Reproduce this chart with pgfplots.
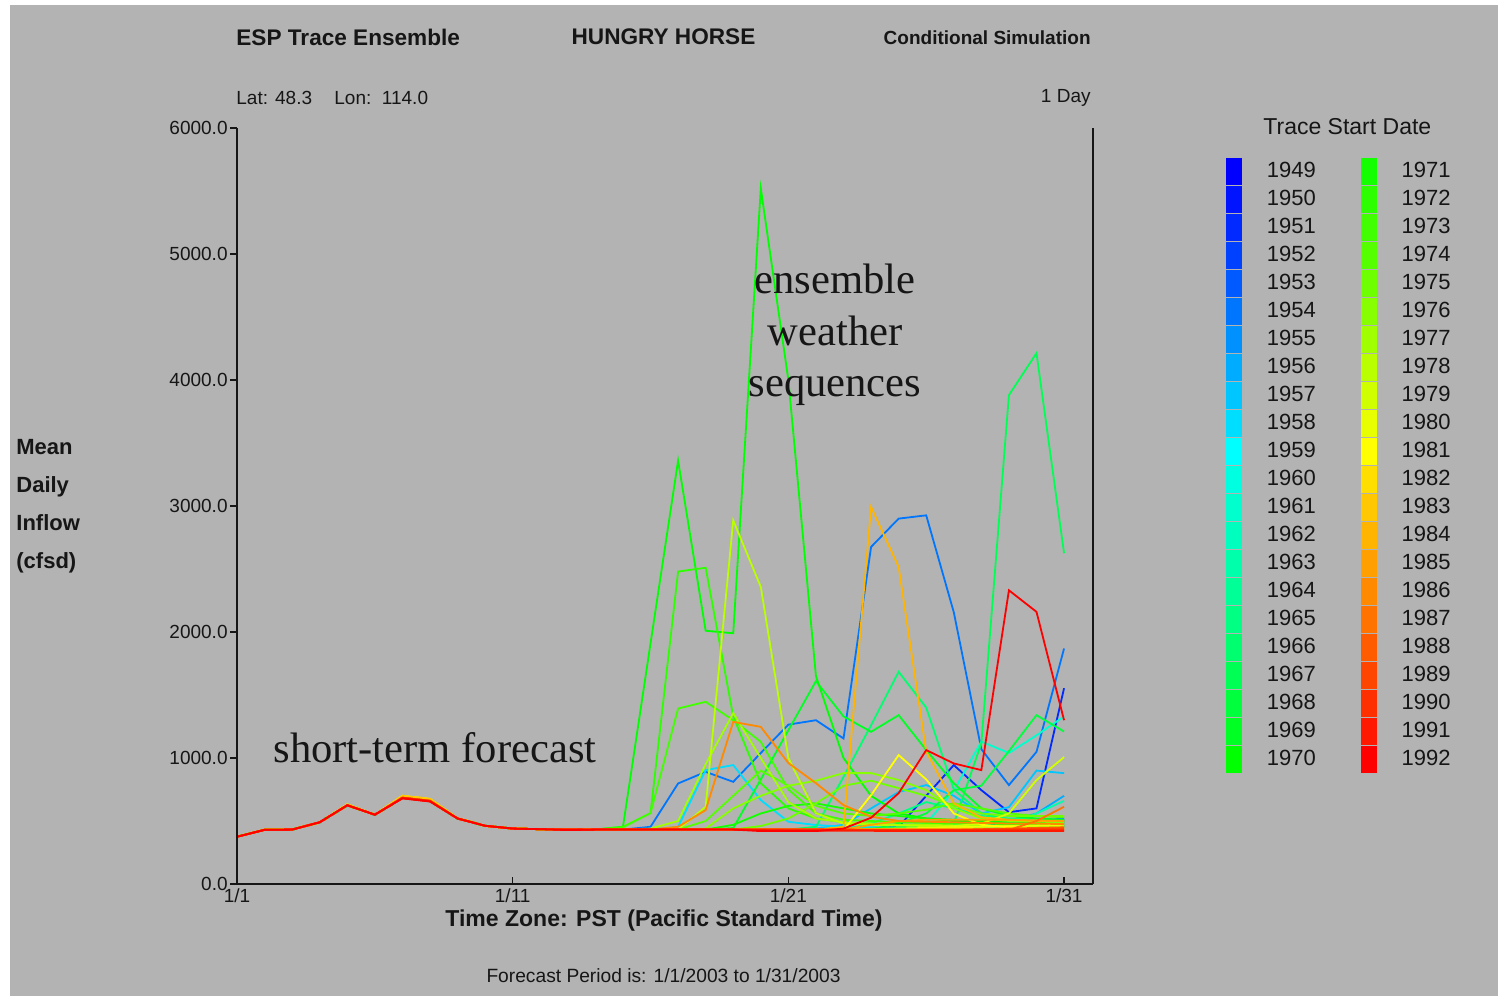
\documentclass[border=0pt]{standalone}
\usepackage{pgfplots}
\pgfplotsset{compat=1.18}
\usepackage{pgfplotstable}
\usepackage{fontspec}
\setmainfont{Liberation Sans}
\newfontfamily\serif{Liberation Serif}

\definecolor{bg}{RGB}{179,179,179}
\definecolor{ink}{RGB}{22,22,22}
% trace colours, blue -> cyan -> green -> yellow -> red
\definecolor{c1949}{RGB}{0,0,255}
\definecolor{c1950}{RGB}{0,20,255}
\definecolor{c1951}{RGB}{0,42,255}
\definecolor{c1952}{RGB}{0,64,255}
\definecolor{c1953}{RGB}{0,90,255}
\definecolor{c1954}{RGB}{0,118,255}
\definecolor{c1955}{RGB}{0,145,255}
\definecolor{c1956}{RGB}{0,172,255}
\definecolor{c1957}{RGB}{0,198,255}
\definecolor{c1958}{RGB}{0,222,255}
\definecolor{c1959}{RGB}{0,255,255}
\definecolor{c1960}{RGB}{0,255,225}
\definecolor{c1961}{RGB}{0,255,205}
\definecolor{c1962}{RGB}{0,255,190}
\definecolor{c1963}{RGB}{0,255,170}
\definecolor{c1964}{RGB}{0,255,150}
\definecolor{c1965}{RGB}{0,255,130}
\definecolor{c1966}{RGB}{0,255,110}
\definecolor{c1967}{RGB}{0,255,85}
\definecolor{c1968}{RGB}{0,255,60}
\definecolor{c1969}{RGB}{0,255,35}
\definecolor{c1970}{RGB}{0,255,0}
\definecolor{c1971}{RGB}{20,255,0}
\definecolor{c1972}{RGB}{45,255,0}
\definecolor{c1973}{RGB}{65,255,0}
\definecolor{c1974}{RGB}{85,255,0}
\definecolor{c1975}{RGB}{110,255,0}
\definecolor{c1976}{RGB}{135,255,0}
\definecolor{c1977}{RGB}{160,255,0}
\definecolor{c1978}{RGB}{185,255,0}
\definecolor{c1979}{RGB}{208,255,0}
\definecolor{c1980}{RGB}{232,255,0}
\definecolor{c1981}{RGB}{255,255,0}
\definecolor{c1982}{RGB}{255,222,0}
\definecolor{c1983}{RGB}{255,200,0}
\definecolor{c1984}{RGB}{255,180,0}
\definecolor{c1985}{RGB}{255,160,0}
\definecolor{c1986}{RGB}{255,138,0}
\definecolor{c1987}{RGB}{255,115,0}
\definecolor{c1988}{RGB}{255,92,0}
\definecolor{c1989}{RGB}{255,70,0}
\definecolor{c1990}{RGB}{255,48,0}
\definecolor{c1991}{RGB}{255,25,0}
\definecolor{c1992}{RGB}{255,0,0}

% one row per trace year, daily mean inflow (cfsd) for 1/1 ... 1/31
\pgfplotstableread{
yr d0 d1 d2 d3 d4 d5 d6 d7 d8 d9 d10 d11 d12 d13 d14 d15 d16 d17 d18 d19 d20 d21 d22 d23 d24 d25 d26 d27 d28 d29 d30
y49 375 430 432 490 625 550 685 660 520 462 440 435 435 432 430 430 430 430 428 428 428 428 428 430 432 436 440 445 450 455 462
y50 375 430 432 490 625 550 685 660 520 462 440 435 435 432 432 432 432 432 432 432 432 435 440 445 450 455 460 470 480 490 500
y51 375 430 432 490 625 550 685 660 520 462 440 435 435 432 432 432 432 432 432 432 432 432 432 432 454 700 944 745 570 600 1554
y52 375 430 432 490 625 550 685 660 520 462 440 435 435 432 432 432 432 432 432 432 432 432 432 434 440 450 460 470 480 495 510
y53 375 430 432 490 625 550 685 660 520 462 440 435 435 432 432 432 432 432 432 432 432 432 432 432 432 432 440 450 460 470 480
y54 375 430 432 490 625 550 685 660 520 462 440 435 435 432 432 454 798 890 811 1040 1265 1300 1155 2675 2900 2926 2157 1070 785 1049 1869
y55 375 430 432 490 625 550 685 660 520 462 440 435 435 432 432 432 432 432 432 432 432 432 435 440 450 460 470 480 490 500 520
y56 375 430 432 490 625 550 685 660 520 462 440 435 435 432 432 432 432 432 432 432 432 432 432 434 440 446 452 470 500 560 700
y57 375 430 432 490 625 550 685 660 520 462 440 435 435 432 432 432 432 432 432 432 432 440 470 600 730 785 700 560 610 900 880
y58 375 430 432 490 625 550 685 660 520 462 440 435 435 432 432 432 454 904 944 666 494 468 455 450 445 445 445 445 445 445 445
y59 375 430 432 490 625 550 685 660 520 462 440 435 435 432 432 432 432 432 432 432 432 432 432 432 432 436 440 445 450 455 460
y60 375 430 432 490 625 550 685 660 520 462 440 435 435 432 432 432 432 432 432 432 432 432 432 432 436 440 446 452 458 464 470
y61 375 430 432 490 625 550 685 660 520 462 440 435 435 432 432 432 432 432 432 432 432 432 432 432 440 480 741 1130 1040 1180 1330
y62 375 430 432 490 625 550 685 660 520 462 440 435 435 432 432 432 432 432 432 432 432 432 432 436 440 446 452 458 464 472 480
y63 375 430 432 490 625 550 685 660 520 462 440 435 435 432 432 432 432 432 432 432 432 432 432 432 436 440 450 460 470 560 660
y64 375 430 432 490 625 550 685 660 520 462 440 435 435 432 432 432 432 432 432 432 432 432 436 440 450 460 470 480 490 495 500
y65 375 430 432 490 625 550 685 660 520 462 440 435 435 432 432 432 432 432 432 432 432 432 432 480 560 650 600 540 520 510 500
y66 375 430 432 490 625 550 685 660 520 462 440 435 435 432 432 432 432 432 432 432 432 454 850 1260 1684 1400 750 560 510 500 490
y67 375 430 432 490 625 550 685 660 520 462 440 435 435 432 432 432 432 432 432 432 432 432 432 440 450 460 480 1118 3880 4213 2625
y68 375 430 432 490 625 550 685 660 520 462 440 435 435 432 432 432 432 432 432 432 432 432 432 432 480 560 745 780 1055 1340 1210
y69 375 430 432 490 625 550 685 660 520 462 440 435 435 432 432 432 432 432 444 830 1220 1610 1330 1208 1340 1063 800 600 540 520 510
y70 375 430 432 490 625 550 685 660 520 462 440 435 435 432 454 1910 3360 2010 1990 5520 4000 1650 1000 700 560 520 500 490 480 470 465
y71 375 430 432 490 625 550 685 660 520 462 440 435 435 432 432 432 432 432 470 560 620 640 600 560 540 520 510 500 495 490 490
y72 375 430 432 490 625 550 685 660 520 462 440 435 435 432 454 563 2480 2510 1330 800 600 520 490 480 470 470 465 460 460 455 455
y73 375 430 432 490 625 550 685 660 520 462 440 435 435 432 450 563 1393 1446 1300 1128 750 560 510 500 490 485 480 480 475 470 470
y74 375 430 432 490 625 550 685 660 520 462 440 435 435 432 432 432 432 500 700 900 780 620 560 540 560 590 640 600 560 540 530
y75 375 430 432 490 625 550 685 660 520 462 440 435 435 432 432 432 432 432 432 460 520 640 780 820 760 700 620 560 540 540 540
y76 375 430 432 490 625 550 685 660 520 462 440 435 435 432 432 432 432 440 600 700 780 820 880 880 825 745 600 520 500 495 490
y77 375 430 432 490 625 550 685 660 520 462 440 435 435 432 432 440 500 950 1356 1000 650 520 490 480 470 470 465 460 460 460 460
y78 375 430 432 490 625 550 685 660 520 462 440 435 435 432 432 432 432 613 2886 2358 1000 562 480 470 465 460 460 455 455 455 450
y79 375 430 432 490 625 550 685 660 520 462 440 435 435 432 432 432 432 432 432 432 432 432 432 432 436 440 460 480 560 825 1007
y80 375 430 432 490 625 550 685 660 520 462 440 435 435 432 432 432 432 432 432 432 432 432 432 436 440 445 450 455 460 465 470
y81 375 430 432 490 632 550 700 675 522 462 440 435 435 432 432 432 432 432 432 432 432 432 428 705 1023 830 560 470 450 445 440
y82 375 430 432 490 632 550 700 675 522 462 440 435 435 432 432 432 432 432 432 432 432 432 432 434 436 438 440 440 440 440 440
y83 375 430 432 490 632 550 700 675 522 462 440 435 435 432 432 432 432 432 432 432 432 432 432 430 430 430 430 430 430 430 430
y84 375 430 432 490 625 550 685 660 520 462 440 435 435 432 432 432 432 432 432 432 432 432 454 2992 2516 1050 640 530 510 500 500
y85 375 430 432 490 625 550 685 660 520 462 440 435 435 432 432 432 432 432 432 432 432 432 432 470 500 510 510 510 510 505 500
y86 375 430 432 490 625 550 685 660 520 462 440 435 435 432 432 432 454 587 1287 1247 960 800 626 534 500 494 490 485 480 480 475
y87 375 430 432 490 625 550 685 660 520 462 440 435 435 432 432 432 432 432 432 432 432 432 432 430 430 430 430 430 430 500 613
y88 375 430 432 490 625 550 685 660 520 462 440 435 435 432 432 432 432 432 432 432 432 432 432 430 430 430 430 435 440 445 450
y89 375 430 432 490 625 550 685 660 520 462 440 435 435 432 432 432 432 432 432 432 432 432 430 430 430 430 430 432 434 437 440
y90 375 430 432 490 625 550 685 660 520 462 440 435 435 432 432 432 432 432 432 432 432 432 430 430 430 430 430 430 430 430 430
y91 375 430 432 490 625 550 680 655 520 462 440 435 428 432 432 432 432 432 432 428 425 424 423 422 421 420 420 420 420 420 420
y92 375 430 432 490 625 550 680 655 520 462 440 435 428 432 432 432 432 432 432 420 420 420 440 526 721 1063 957 904 2331 2160 1300
}\raw
\pgfplotstabletranspose[colnames from=yr]\data\raw

\begin{document}
\begin{tikzpicture}
\useasboundingbox (0,0) rectangle (749pt,499pt);
% page background, coordinates in reference pixels
\begin{scope}[x=0.5pt,y=-0.5pt,shift={(0pt,499pt)}]
  \fill[white] (0,0) rectangle (1498,998);
  \fill[bg] (10,5) rectangle (1498,996);
\end{scope}

\begin{axis}[
    at={(118.5pt,57pt)}, anchor=south west,
    scale only axis, width=428pt, height=378pt,
    xmin=0, xmax=31.05, ymin=0, ymax=6000,
    axis line style={draw=none},
    xtick pos=left, ytick pos=left,
    xtick={0,10,20,30}, xticklabels={1/1,1/11,1/21,1/31},
    ytick={0,1000,2000,3000,4000,5000,6000},
    yticklabels={0.0,1000.0,2000.0,3000.0,4000.0,5000.0,6000.0},
    xtick align=inside, ytick align=outside,
    major tick length=3.5pt,
    tick style={ink, line width=0.6pt},
    tick label style={font=\fontsize{9.5}{11}\selectfont, text=ink},
    yticklabel style={inner sep=1pt},
    xticklabel style={inner sep=2pt},
    clip=false,
    legend columns=2, legend cell align=left,
    legend image code/.code={\fill[#1] (0pt,-6.5pt) rectangle (7.5pt,6.5pt);},
    legend style={at={(1.1554,0.961)}, anchor=north west, draw=none, fill=none,
        inner sep=0pt, outer sep=0pt, row sep=0.62pt,
        font=\fontsize{11}{13}\selectfont, text=ink, nodes={inner sep=0pt},
        /tikz/every odd column/.append style={column sep=12.5pt},
        /tikz/every even column/.append style={column sep=22.5pt}},
]
\pgfplotsinvokeforeach{49,...,92}{
  \addplot[forget plot, draw=c19#1, line width=0.9pt] table[x expr=\coordindex, y=y#1] {\data};
}
\draw[ink, line width=0.8pt] (rel axis cs:0,1) -- (rel axis cs:0,0);
\draw[ink, line width=1.3pt] (rel axis cs:0,0) -- (rel axis cs:1,0);
\draw[ink, line width=1pt] (rel axis cs:1,0) -- (rel axis cs:1,1);

\addlegendimage{c1949}\addlegendentry{1949}
\addlegendimage{c1971}\addlegendentry{1971}
\addlegendimage{c1950}\addlegendentry{1950}
\addlegendimage{c1972}\addlegendentry{1972}
\addlegendimage{c1951}\addlegendentry{1951}
\addlegendimage{c1973}\addlegendentry{1973}
\addlegendimage{c1952}\addlegendentry{1952}
\addlegendimage{c1974}\addlegendentry{1974}
\addlegendimage{c1953}\addlegendentry{1953}
\addlegendimage{c1975}\addlegendentry{1975}
\addlegendimage{c1954}\addlegendentry{1954}
\addlegendimage{c1976}\addlegendentry{1976}
\addlegendimage{c1955}\addlegendentry{1955}
\addlegendimage{c1977}\addlegendentry{1977}
\addlegendimage{c1956}\addlegendentry{1956}
\addlegendimage{c1978}\addlegendentry{1978}
\addlegendimage{c1957}\addlegendentry{1957}
\addlegendimage{c1979}\addlegendentry{1979}
\addlegendimage{c1958}\addlegendentry{1958}
\addlegendimage{c1980}\addlegendentry{1980}
\addlegendimage{c1959}\addlegendentry{1959}
\addlegendimage{c1981}\addlegendentry{1981}
\addlegendimage{c1960}\addlegendentry{1960}
\addlegendimage{c1982}\addlegendentry{1982}
\addlegendimage{c1961}\addlegendentry{1961}
\addlegendimage{c1983}\addlegendentry{1983}
\addlegendimage{c1962}\addlegendentry{1962}
\addlegendimage{c1984}\addlegendentry{1984}
\addlegendimage{c1963}\addlegendentry{1963}
\addlegendimage{c1985}\addlegendentry{1985}
\addlegendimage{c1964}\addlegendentry{1964}
\addlegendimage{c1986}\addlegendentry{1986}
\addlegendimage{c1965}\addlegendentry{1965}
\addlegendimage{c1987}\addlegendentry{1987}
\addlegendimage{c1966}\addlegendentry{1966}
\addlegendimage{c1988}\addlegendentry{1988}
\addlegendimage{c1967}\addlegendentry{1967}
\addlegendimage{c1989}\addlegendentry{1989}
\addlegendimage{c1968}\addlegendentry{1968}
\addlegendimage{c1990}\addlegendentry{1990}
\addlegendimage{c1969}\addlegendentry{1969}
\addlegendimage{c1991}\addlegendentry{1991}
\addlegendimage{c1970}\addlegendentry{1970}
\addlegendimage{c1992}\addlegendentry{1992}
\end{axis}

% titles, labels and annotations, placed in reference pixels
\begin{scope}[x=0.5pt,y=-0.5pt,shift={(0pt,499pt)}, every node/.style={inner sep=0pt, text=ink}]
  \node[anchor=west, font=\bfseries\fontsize{11.3}{13}\selectfont] at (236,37) {ESP Trace Ensemble};
  \node[font=\bfseries\fontsize{11.3}{13}\selectfont] at (663.5,37) {HUNGRY HORSE};
  \node[anchor=east, font=\bfseries\fontsize{9.5}{11}\selectfont] at (1091,38) {Conditional Simulation};
  \node[anchor=west, font=\fontsize{9.5}{11}\selectfont] at (236,98) {Lat: 48.3};
  \node[anchor=west, font=\fontsize{9.5}{11}\selectfont] at (334,98) {Lon:\ \ 114.0};
  \node[anchor=east, font=\fontsize{9.5}{11}\selectfont] at (1091,98) {1 Day};
  \node[anchor=west, align=left, font=\bfseries\fontsize{11}{19}\selectfont] at (16,506) {Mean\\Daily\\Inflow\\(cfsd)};
  \node[font=\bfseries\fontsize{11.5}{13}\selectfont] at (664,921) {Time Zone: PST (Pacific Standard Time)};
  \node[font=\fontsize{9.6}{11}\selectfont] at (663.5,976) {Forecast Period is: 1/1/2003 to 1/31/2003};
  \node[anchor=west, font=\fontsize{11.5}{13}\selectfont] at (1263,127) {Trace Start Date};
  \node[font=\serif\fontsize{21.3}{25.75}\selectfont] at (435,748) {short-term forecast};
  \node[align=center, font=\serif\fontsize{21.3}{25.75}\selectfont] at (835,335) {ensemble\\weather\\sequences};
\end{scope}
\end{tikzpicture}
\end{document}
